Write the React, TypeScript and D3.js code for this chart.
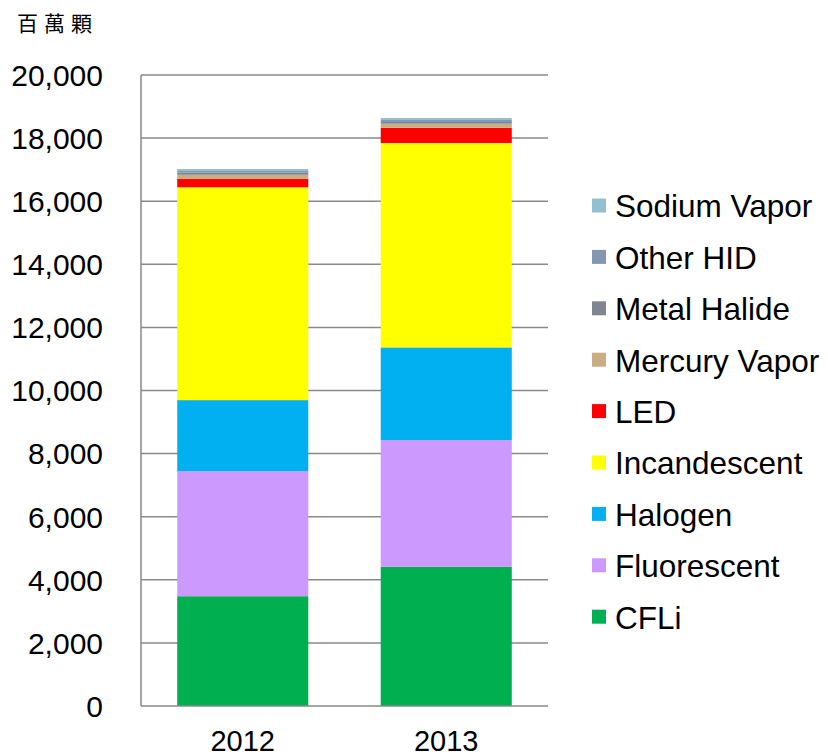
import React from "react";
import * as d3 from "d3";

const years = ["2012", "2013"];
const seriesNames = ["CFLi", "Fluorescent", "Halogen", "Incandescent", "LED", "Mercury Vapor", "Metal Halide", "Other HID", "Sodium Vapor"];
const seriesColors = ["#00B050", "#CC99FF", "#00B0F0", "#FFFF00", "#FF0000", "#C9AE84", "#7F8591", "#8497B0", "#92C0D0"];
const values2012 = [3480, 3965, 2250, 6745, 263, 136, 63, 54, 64];
const values2013 = [4410, 4020, 2935, 6480, 485, 127, 53, 64, 63];
const yTicks = [0, 2000, 4000, 6000, 8000, 10000, 12000, 14000, 16000, 18000, 20000];
const unitLabel = "百萬顆";

export default function App() {
  const W = 828, H = 756;
  const left = 141, right = 548, top = 75, bottom = 706;
  const y = d3.scaleLinear().domain([0, 20000]).range([bottom, top]);
  const x = d3.scaleBand().domain(years).range([left, right]).paddingInner(0.356).paddingOuter(0.178);

  const rows = years.map((yr, i) => {
    const vals = i === 0 ? values2012 : values2013;
    const r: any = { year: yr };
    seriesNames.forEach((s, j) => (r[s] = vals[j]));
    return r;
  });
  const stacked = d3.stack().keys(seriesNames)(rows);
  const font = "Liberation Sans, Arial, sans-serif";
  const legendOrder = seriesNames.map((s, i) => i).reverse();

  return (
    <svg width={W} height={H} style={{ position: "absolute", left: 0, top: 0, background: "#fff" }}>
      <text x={17} y={31} fontFamily="Noto Sans CJK TC" fontSize={21} letterSpacing={6} fill="#000">{unitLabel}</text>
      {yTicks.map((t) => (
        <g key={t}>
          {t > 0 && <line x1={left} x2={right} y1={y(t)} y2={y(t)} stroke="#898989" strokeWidth={1.5} />}
          <text x={103} y={y(t)} dy="0.36em" textAnchor="end" fontFamily={font} fontSize={30} fill="#000">
            {d3.format(",")(t)}
          </text>
        </g>
      ))}
      {stacked.map((layer, li) => (
        <g key={layer.key} fill={seriesColors[li]}>
          {layer.map((d, di) => (
            <rect key={di} x={x(years[di])} width={x.bandwidth()} y={y(d[1])} height={y(d[0]) - y(d[1])} />
          ))}
        </g>
      ))}
      <line x1={left} x2={left} y1={top} y2={bottom} stroke="#898989" strokeWidth={1.5} />
      <line x1={left} x2={right} y1={bottom} y2={bottom} stroke="#898989" strokeWidth={1.5} />
      {years.map((yr) => (
        <text key={yr} x={(x(yr) as number) + x.bandwidth() / 2} y={751} textAnchor="middle" fontFamily={font} fontSize={29} fill="#000">
          {yr}
        </text>
      ))}
      {legendOrder.map((si, k) => {
        const cy = 206 + k * 51.4;
        return (
          <g key={si}>
            <rect x={592} y={cy - 7.5} width={14} height={14} fill={seriesColors[si]} />
            <text x={615} y={cy} dy="0.36em" fontFamily={font} fontSize={31.5} fill="#000">{seriesNames[si]}</text>
          </g>
        );
      })}
    </svg>
  );
}
